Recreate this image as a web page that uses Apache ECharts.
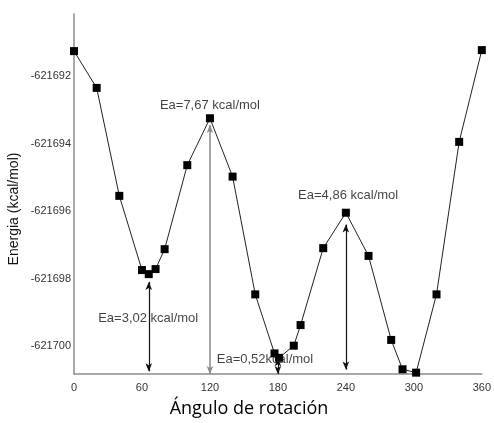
<!DOCTYPE html>
<html>
<head>
<meta charset="utf-8">
<script src="https://cdn.jsdelivr.net/npm/echarts@6/dist/echarts.min.js"></script>
<style>
  html, body { margin: 0; padding: 0; background: #fff; }
  #chart { width: 494px; height: 423px; }
</style>
</head>
<body>
<div id="chart"></div>
<script>
// ángulo de rotación (grados)
var angles = [0, 20, 40, 60, 66, 72, 80, 100, 120, 140, 160, 177, 181, 194, 200, 220, 240, 260, 280, 290, 302, 320, 340, 360];
// energía (kcal/mol)
var energies = [-621691.26, -621692.35, -621695.55, -621697.75, -621697.87, -621697.72, -621697.13, -621694.64,
  -621693.25, -621694.98, -621698.47, -621700.22, -621700.35, -621699.99, -621699.38, -621697.10,
  -621696.05, -621697.33, -621699.82, -621700.69, -621700.79, -621698.47, -621693.95, -621691.23];

// etiquetas del eje y
var yTicks = [-621700, -621698, -621696, -621694, -621692];
var yMin = -621700.83;
var yMax = -621690.16;

// flechas de energía de activación: [ángulo, desde, hasta]
var arrows = [
  [120, -621700.83, -621693.45],
  [66, -621698.10, -621700.75],
  [180, -621700.36, -621700.83],
  [240, -621696.40, -621700.70]
];
var arrowColors = ['#8a8a8a', '#111', '#111', '#111'];

// textos de anotación: [ángulo, energía, texto]
var notes = [
  [120, -621692.86, 'Ea=7,67 kcal/mol'],
  [65.5, -621699.17, 'Ea=3,02 kcal/mol'],
  [168.6, -621700.41, 'Ea=0,52kcal/mol'],
  [242, -621695.53, 'Ea=4,86 kcal/mol']
];

var chart = echarts.init(document.getElementById('chart'));

var points = angles.map(function (a, i) { return [a, energies[i]]; });

var arrowLines = arrows.map(function (a, i) {
  return [
    { coord: [a[0], a[1]], lineStyle: { color: arrowColors[i], width: i === 0 ? 1.5 : 1.2, type: 'solid' } },
    { coord: [a[0], a[2]] }
  ];
});

var option = {
  animation: false,
  grid: { left: 74, right: 8, top: 14, bottom: 49 },
  xAxis: {
    type: 'value',
    min: 0,
    max: 360,
    interval: 60,
    axisLine: { lineStyle: { color: '#8c8c8c', width: 1.5 } },
    axisTick: { show: false },
    splitLine: { show: false },
    axisLabel: { color: '#333', fontSize: 11, fontFamily: 'Liberation Sans', margin: 8 }
  },
  yAxis: {
    type: 'value',
    min: yMin,
    max: yMax,
    axisLine: { show: true, lineStyle: { color: '#8c8c8c', width: 1.5 } },
    axisTick: { show: false },
    splitLine: { show: false },
    axisLabel: {
      color: '#333', fontSize: 11, fontFamily: 'Liberation Sans', margin: 3,
      customValues: yTicks,
      formatter: function (v) { return String(Math.round(v)); }
    }
  },
  graphic: [
    {
      type: 'text', x: 14, y: 209, rotation: Math.PI / 2,
      style: { text: 'Energia (kcal/mol)', align: 'center', verticalAlign: 'middle',
        font: '14px "Liberation Sans"', fill: '#111' }
    },
    {
      type: 'text', x: 249, y: 409,
      style: { text: 'Ángulo de rotación', align: 'center', verticalAlign: 'middle',
        font: '18px "Open Sans"', fill: '#000' }
    }
  ],
  series: [
    {
      type: 'line',
      data: points,
      symbol: 'rect',
      symbolSize: 8,
      itemStyle: { color: '#000' },
      lineStyle: { color: '#222', width: 1 },
      markLine: {
        silent: true,
        symbol: ['arrow', 'arrow'],
        symbolSize: [5, 8],
        lineStyle: { type: 'solid' },
        label: { show: false },
        data: arrowLines
      },
      z: 3
    },
    {
      type: 'scatter',
      data: notes,
      symbolSize: 0,
      silent: true,
      label: {
        show: true,
        position: 'inside',
        color: '#111',
        fontSize: 13,
        fontFamily: 'Liberation Sans',
        formatter: function (p) { return p.data[2]; }
      },
      z: 4
    }
  ]
};

chart.setOption(option);
</script>
</body>
</html>
